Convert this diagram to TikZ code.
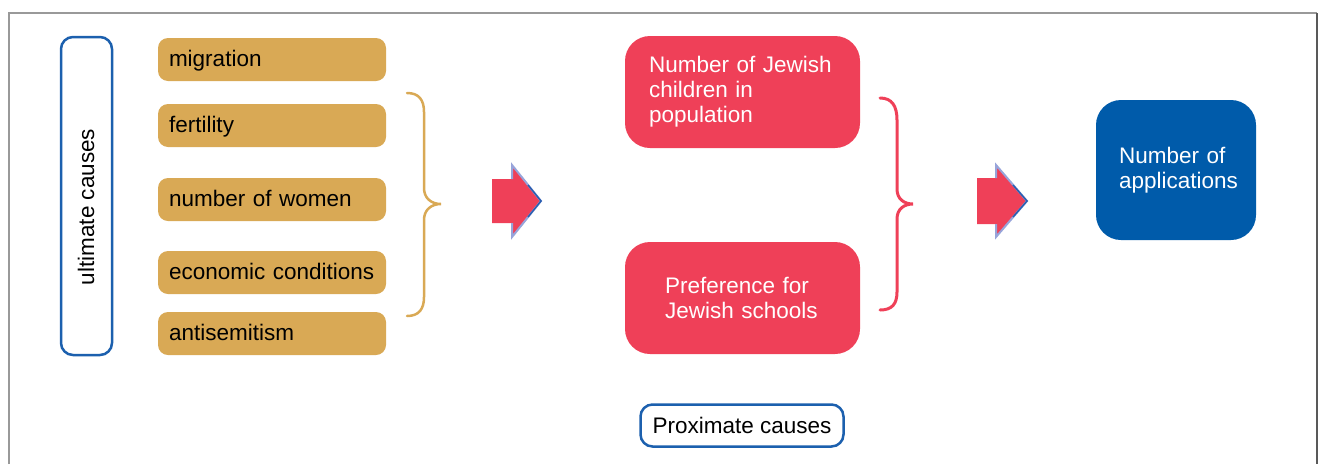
\documentclass[tikz,border=0pt]{standalone}
\usepackage{fontspec}
\setmainfont{Liberation Sans}
\definecolor{tanc}{HTML}{D9A955}
\definecolor{redc}{HTML}{EF4058}
\definecolor{bluec}{HTML}{005BAA}
\definecolor{bordc}{HTML}{1C60AE}
\definecolor{edgelight}{HTML}{97A4DA}
\definecolor{edgedark}{HTML}{2A5FB0}
\begin{document}
\begin{tikzpicture}[x=1pt,y=-1pt,
  every node/.style={font=\fontsize{22.5}{25}\selectfont, inner sep=0pt},
  tanbox/.style={fill=tanc, rounded corners=10pt, minimum width=228pt, minimum height=43pt,
    text width=206pt, align=left, text height=16pt, text depth=2pt,
    execute at begin node={\hyphenpenalty=10000 \hbadness=10000}},
  redbox/.style={fill=redc, rounded corners=25pt, minimum width=235pt, minimum height=112pt,
    text=white, align=left},
  bluebox/.style={fill=bluec, rounded corners=25pt, minimum width=160pt, minimum height=140pt,
    text=white, align=left},
  outlinebox/.style={draw=bordc, line width=2.5pt, fill=white, rounded corners=12pt},
  tanbrace/.style={draw=tanc, line width=2.5pt, line cap=round},
  redbrace/.style={draw=redc, line width=3pt, line cap=round},
  blockarrow/.style={fill=redc},
  arrowedge/.style={draw=edgelight, line width=2pt, line join=miter},
  arrowtipedge/.style={draw=edgedark, line width=1.5pt, line join=miter}
]
\useasboundingbox (0,0) rectangle (1322,464);
% frame
\draw[black!40, line width=1.5pt] (9,464) -- (9,13) -- (1317,13);
\draw[black!65, line width=1.5pt] (1317,13) -- (1317,464);

% ultimate causes
\node[outlinebox, minimum width=51pt, minimum height=318pt] (ult) at (86.5,196) {};
\node[rotate=90] (ulttext) at (86,207) {ultimate causes};

% tan boxes
\node[tanbox] (mig) at (272,59.5) {migration};
\node[tanbox] (fert) at (272,125.5) {fertility};
\node[tanbox] (women) at (272,199.5) {number of women};
\node[tanbox] (econ) at (272,272.5) {economic conditions};
\node[tanbox] (anti) at (272,333.5) {antisemitism};

% tan brace
\draw[tanbrace] (407,93) .. controls (419,93) and (424,100) .. (424,112) -- (424,188)
  .. controls (424,198) and (431,204) .. (441,204)
  .. controls (431,204) and (424,210) .. (424,220) -- (424,297)
  .. controls (424,309) and (419,316) .. (407,316);

% arrow 1
\fill[blockarrow] (492,179) -- (512,179) -- (512,165) -- (541,201) -- (512,237) -- (512,223) -- (492,223) -- cycle;
\draw[arrowedge] (512,179) -- (512,165) -- (541,201) -- (512,237) -- (512,223);
\draw[arrowtipedge] (528,185) -- (541,201) -- (528,217);

% red boxes
\node[redbox, text width=187pt] (kids) at (742.5,92) {Number of Jewish\\children in\\population};
\node[redbox, text width=155pt] (pref) at (742.5,298) {Preference for\\Jewish schools};

% red brace
\draw[redbrace] (880,98) .. controls (892,98) and (897,106) .. (897,120) -- (897,189)
  .. controls (897,199) and (904,204) .. (913,204)
  .. controls (904,204) and (897,209) .. (897,219) -- (897,292)
  .. controls (897,304) and (892,310) .. (880,310);

% arrow 2
\fill[blockarrow] (977,178) -- (996,178) -- (996,165) -- (1027,201) -- (996,237) -- (996,224) -- (977,224) -- cycle;
\draw[arrowedge] (996,178) -- (996,165) -- (1027,201) -- (996,237) -- (996,224);
\draw[arrowtipedge] (1013,185) -- (1027,201) -- (1013,217);

% blue box
\node[bluebox, text width=114pt] (apps) at (1176,170) {Number of\\applications};

% proximate causes
\node[outlinebox, minimum width=203pt, minimum height=42pt] (prox) at (742,425.5) {Proximate causes};
\end{tikzpicture}
\end{document}
